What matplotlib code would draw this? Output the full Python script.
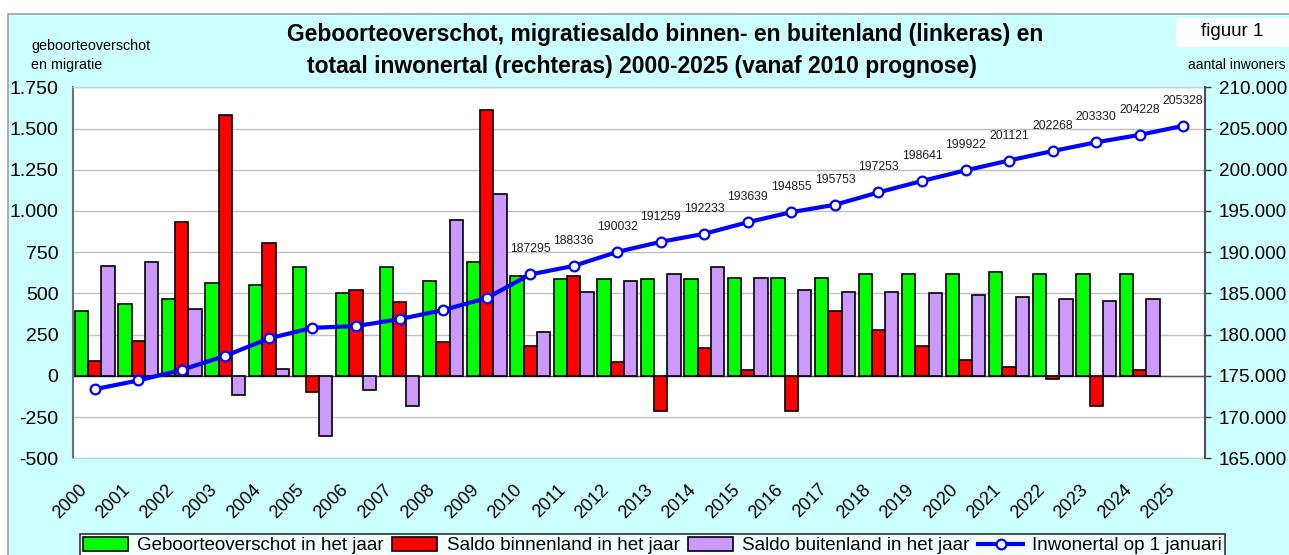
import numpy as np
import matplotlib
matplotlib.use("Agg")
import matplotlib.pyplot as plt
from matplotlib.patches import Rectangle, Patch
from matplotlib.lines import Line2D
from matplotlib.ticker import FuncFormatter
import matplotlib.transforms as mtransforms

plt.rcParams['font.family'] = ['Liberation Sans', 'DejaVu Sans']

years = [str(y) for y in range(2000, 2026)]
geboorte = [392, 435, 467, 564, 552, 658, 500, 658, 573, 690,
            603, 585, 585, 585, 585, 595, 595, 595, 617, 617,
            617, 627, 617, 617, 617, np.nan]
binnenland = [93, 211, 934, 1584, 805, -97, 520, 445, 203, 1614,
              180, 603, 85, -214, 170, 33, -214, 394, 277, 182,
              95, 55, -22, -182, 33, np.nan]
buitenland = [667, 690, 405, -117, 42, -364, -87, -182, 945, 1102,
              265, 510, 573, 617, 658, 595, 522, 510, 510, 500,
              490, 480, 467, 457, 467, np.nan]
inwoners = [173385, 174440, 175730, 177430, 179540, 180830, 181030, 181880, 182980, 184430,
            187295, 188336, 190032, 191259, 192233, 193639, 194855, 195753, 197253, 198641,
            199922, 201121, 202268, 203330, 204228, 205328]
label_from = 2010

W, H = 1289, 555
fig = plt.figure(figsize=(W / 100, H / 100), dpi=100, facecolor='white')
fig.patches.append(Rectangle((8 / W, -0.1), 1.1, 1 - 14 / H + 0.1, transform=fig.transFigure,
                             facecolor='#CCFFFF', edgecolor='#A0A0A0', lw=1.2, zorder=-10))

ax = fig.add_axes([73 / W, (H - 458.3) / H, (1205 - 73) / W, (458.3 - 87.3) / H])
ax.set_facecolor('white')
x = np.arange(len(years))
w = 0.305
ax.bar(x - w, geboorte, w, color='#00FF00', edgecolor='black', lw=1.2, zorder=3)
ax.bar(x, binnenland, w, color='#FF0000', edgecolor='black', lw=1.2, zorder=3)
ax.bar(x + w, buitenland, w, color='#CC99FF', edgecolor='black', lw=1.2, zorder=3)
ax.set_xlim(-0.5, len(years) - 0.5)
ax.set_ylim(-500, 1750)
ax.set_yticks(np.arange(-500, 1751, 250))
ax.yaxis.set_major_formatter(FuncFormatter(lambda v, p: f"{int(v):,}".replace(',', '.')))
ax.grid(axis='y', color='#C0C0C0', lw=1, zorder=0)
ax.axhline(0, color='#505050', lw=1.0, zorder=2)
ax.tick_params(axis='y', length=0, pad=10.5, labelsize=14)
ax.set_xticks(x)
ax.set_xticklabels(years, rotation=45, ha='right', fontsize=13)
ax.tick_params(axis='x', length=0, pad=16.3)
off = mtransforms.ScaledTranslation(-4.6 / 100, 0, fig.dpi_scale_trans)
for lab in ax.get_xticklabels():
    lab.set_transform(lab.get_transform() + off)
for s in ['top', 'bottom']:
    ax.spines[s].set_color('#B8D8D8')
    ax.spines[s].set_linewidth(1)
ax.spines['left'].set_color('#707070')
ax.spines['left'].set_linewidth(1.5)
ax.spines['right'].set_visible(False)

ax2 = ax.twinx()
ax2.set_ylim(165000, 210000)
ax2.set_yticks(np.arange(165000, 210001, 5000))
ax2.yaxis.set_major_formatter(FuncFormatter(lambda v, p: f"{int(v):,}".replace(',', '.')))
ax2.plot(x, inwoners, color='#0000FF', lw=3, marker='o', ms=7, mfc='white', mec='#0000FF',
         mew=1.6, zorder=5)
for xi, yr, v in zip(x, years, inwoners):
    if int(yr) >= label_from:
        ax2.annotate(str(v), (xi, v), xytext=(0, 18), textcoords='offset points',
                     ha='center', va='center', fontsize=8.7, color='#202020')
ax2.tick_params(axis='y', length=4, width=1, color='#404040', direction='out', pad=6, labelsize=13.6)
ax2.spines['right'].set_color('#505050')
ax2.spines['right'].set_linewidth(1.5)
for s in ['top', 'bottom', 'left']:
    ax2.spines[s].set_visible(False)

fig.text(665 / W, 1 - 34 / H, "Geboorteoverschot, migratiesaldo binnen- en buitenland (linkeras) en",
         ha='center', va='center', fontsize=16.5, fontweight='bold')
fig.text(642 / W, 1 - 67 / H, "totaal inwonertal (rechteras) 2000-2025 (vanaf 2010 prognose)",
         ha='center', va='center', fontsize=16.5, fontweight='bold')
fig.text(31 / W, 1 - 46 / H, "geboorteoverschot", ha='left', va='center', fontsize=10.3)
fig.text(31 / W, 1 - 65 / H, "en migratie", ha='left', va='center', fontsize=10.3)
fig.text(1286 / W, 1 - 65 / H, "aantal inwoners", ha='right', va='center', fontsize=10)
fig.patches.append(Rectangle((1176 / W, 1 - 47 / H), (W - 1176) / W, 29 / H, transform=fig.transFigure,
                             facecolor='white', edgecolor='none', zorder=-5))
fig.text(1232 / W, 1 - 32 / H, "figuur 1", ha='center', va='center', fontsize=13.5)

handles = [Patch(facecolor='#00FF00', edgecolor='black', lw=1.2),
           Patch(facecolor='#FF0000', edgecolor='black', lw=1.2),
           Patch(facecolor='#CC99FF', edgecolor='black', lw=1.2),
           Line2D([], [], color='#0000FF', lw=3, marker='o', ms=7, mfc='white', mec='#0000FF', mew=1.6)]
labels = ["Geboorteoverschot in het jaar", "Saldo binnenland in het jaar",
          "Saldo buitenland in het jaar", "Inwonertal op 1 januari"]
leg = fig.legend(handles, labels, loc='upper left', bbox_to_anchor=(80 / W, 1 - 534 / H), ncol=4,
                 fontsize=13.5, frameon=True, fancybox=False, edgecolor='black', facecolor='white',
                 handlelength=2.4, handleheight=0.75, handletextpad=0.5, columnspacing=0.45,
                 borderpad=0.15, borderaxespad=0)
leg.get_frame().set_linewidth(1.2)

fig.savefig("out.png", dpi=100, facecolor='white')
